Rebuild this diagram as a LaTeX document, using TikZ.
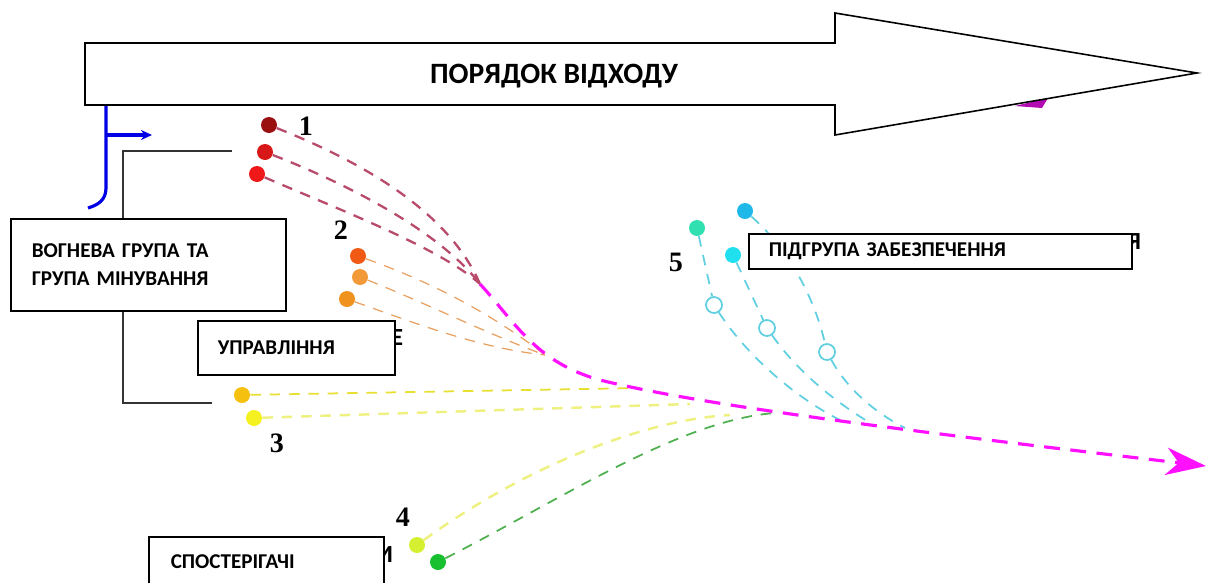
\documentclass[tikz,border=0pt]{standalone}
\usepackage{fontspec}
\setmainfont{Carlito}
\newfontfamily\numfont{Liberation Serif}
\usetikzlibrary{arrows.meta}

\definecolor{dred}{HTML}{9A1010}
\definecolor{mred}{HTML}{D81818}
\definecolor{lred}{HTML}{F01818}
\definecolor{or1}{HTML}{F05A14}
\definecolor{or2}{HTML}{F29A3A}
\definecolor{or3}{HTML}{F0921E}
\definecolor{ye1}{HTML}{F5C010}
\definecolor{ye2}{HTML}{F5F020}
\definecolor{lgr}{HTML}{D4F030}
\definecolor{dgr}{HTML}{18C030}
\definecolor{tl}{HTML}{30E0B0}
\definecolor{sk}{HTML}{20B8E8}
\definecolor{cy}{HTML}{20E0F0}
\definecolor{route}{HTML}{FF10FF}
\definecolor{redline}{HTML}{B84A6A}
\definecolor{orline}{HTML}{E8A060}
\definecolor{yeline}{HTML}{E8E030}
\definecolor{lyline}{HTML}{EEF080}
\definecolor{grline}{HTML}{50B050}
\definecolor{cyline}{HTML}{60D0E0}

\tikzset{
  path/.style={line width=1pt, dash pattern=on 6pt off 5pt},
  label box/.style={draw, line width=0.9pt, fill=white, anchor=north west,
    inner sep=0pt, font=\fontsize{12}{16}\selectfont\bfseries, align=left},
  num/.style={font=\numfont\fontsize{16}{16}\selectfont\bfseries},
  hidden/.style={font=\fontsize{14}{14}\selectfont\bfseries}
}

\begin{document}
\begin{tikzpicture}[x=0.02cm, y=-0.02cm]
\useasboundingbox (0,0) rectangle (1210,582);

% points where the routes meet
\coordinate (m0) at (480,284);
\coordinate (m1) at (545,355);
\coordinate (y1e) at (640,388);
\coordinate (y2e) at (690,404);
\coordinate (g1e) at (730,415);
\coordinate (g2e) at (775,413);
\coordinate (c1e) at (840,420);
\coordinate (c2e) at (872,424);
\coordinate (c3e) at (905,428);
\coordinate (mend) at (1206,466);

\begin{scope}[every node/.style={circle, inner sep=0pt, minimum size=0.32cm}]
    \node[fill=dred] (1a) at (269,125) {};
    \node[fill=mred] (1b) at (265,152) {};
    \node[fill=lred] (1c) at (257,174) {};
    \node[fill=or1] (2a) at (358,256) {};
    \node[fill=or2] (2b) at (360,277) {};
    \node[fill=or3] (2c) at (347,299) {};
    \node[fill=ye1] (3a) at (242,395) {};
    \node[fill=ye2] (3b) at (254,418) {};
    \node[fill=lgr] (4a) at (417,545) {};
    \node[fill=dgr] (4b) at (438,562) {};
    \node[fill=tl] (5a) at (697,228) {};
    \node[fill=cy] (5b) at (733,255) {};
    \node[fill=sk] (5c) at (745,211) {};
    \node[draw=cyline, line width=1pt] (5d) at (714,305) {};
    \node[draw=cyline, line width=1pt] (5e) at (767,328) {};
    \node[draw=cyline, line width=1pt] (5f) at (827,352) {};
\end{scope}

\draw[path, redline, line width=1.3pt] (1a) .. controls (370,165) and (450,215) .. (m0);
\draw[path, redline, line width=1.3pt] (1b) .. controls (350,185) and (440,232) .. (m0);
\draw[path, redline, line width=1.3pt] (1c) .. controls (340,210) and (440,248) .. (m0);
\draw[path, orline, line width=0.7pt] (2a) .. controls (440,285) and (500,320) .. (m1);
\draw[path, orline, line width=0.7pt] (2b) .. controls (430,305) and (490,335) .. (m1);
\draw[path, orline, line width=0.7pt] (2c) .. controls (420,325) and (480,348) .. (m1);
\draw[path, yeline] (3a) -- (y1e);
\draw[path, lyline, line width=1.4pt] (3b) -- (y2e);
\draw[path, lyline, line width=1.4pt] (4a) .. controls (520,470) and (640,420) .. (g1e);
\draw[path, grline] (4b) .. controls (560,500) and (680,420) .. (g2e);
\draw[path, cyline] (5a) -- (5d) .. controls (750,360) and (800,400) .. (c1e);
\draw[path, cyline] (5b) -- (5e) .. controls (800,375) and (840,405) .. (c2e);
\draw[path, cyline] (5c) .. controls (790,250) and (815,300) .. (5f) .. controls (845,385) and (870,410) .. (c3e);
\draw[route, line width=1.8pt, dash pattern=on 9pt off 6pt, -{Stealth[length=0.8cm, width=0.55cm, inset=0.25cm]}]
    (m0) .. controls (515,322) and (535,362) .. (600,380)
    .. controls (700,405) and (900,430) .. (mend);

\node[num] (n1) at (306,126) {1};
\node[num] (n2) at (341,230) {2};
\node[num] (n3) at (277,443) {3};
\node[num] (n4) at (403,517) {4};
\node[num] (n5) at (676,262) {5};

% blue marker
\coordinate (bt) at (106,105);
\coordinate (bb) at (88,208);
\coordinate (ba) at (106,135);
\coordinate (bh) at (152,135);
\draw[blue!90!black, line width=1.8pt] (bt) -- (106,188) .. controls (106,200) and (98,205) .. (bb);
\draw[blue!90!black, line width=1.8pt, -{Stealth[length=0.22cm, width=0.2cm]}] (ba) -- (bh);

% letters under the boxes
\node[hidden] (h1) at (397,338) {Е};
\node[hidden] (h2) at (1134,242) {Я};
\node[hidden] (h3) at (385,555) {И};

\node[label box, minimum width=5.5cm, minimum height=1.84cm, text width=4.66cm, inner xsep=0.42cm] (fire) at (10,218)
    {ВОГНЕВА ГРУПА ТА\\ГРУПА МІНУВАННЯ};
\node[label box, minimum width=3.94cm, minimum height=1.08cm, text width=3.14cm, inner xsep=0.4cm] (ctrl) at (197,320)
    {УПРАВЛІННЯ};
\node[label box, minimum width=7.66cm, minimum height=0.7cm, text width=6.86cm, inner xsep=0.4cm] (supp) at (748,233)
    {ПІДГРУПА ЗАБЕЗПЕЧЕННЯ};
\node[label box, minimum width=4.7cm, minimum height=1.0cm, text width=3.82cm, inner xsep=0.44cm] (obs) at (148,536)
    {СПОСТЕРІГАЧІ};

% bracket of the first groups
\coordinate (g1) at (232,151);
\coordinate (g2) at (212,403);
\draw[black!80, line width=1.1pt] (g1) -| ([xshift=2.26cm]fire.north west);
\draw[black!80, line width=1.1pt] (g2) -| ([xshift=2.26cm]fire.south west);

% big arrow
\fill[route!70!black] (1015,106) -- (1048,98) -- (1042,108) -- cycle;
\draw[line width=0.9pt, fill=white] (85,43) -- (835,43) -- (835,13) -- (1197,73)
    -- (835,135) -- (835,105) -- (85,105) -- cycle;
\node[font=\fontsize{16.8}{17}\selectfont\bfseries] (title) at (554,76) {ПОРЯДОК ВІДХОДУ};
\end{tikzpicture}
\end{document}
